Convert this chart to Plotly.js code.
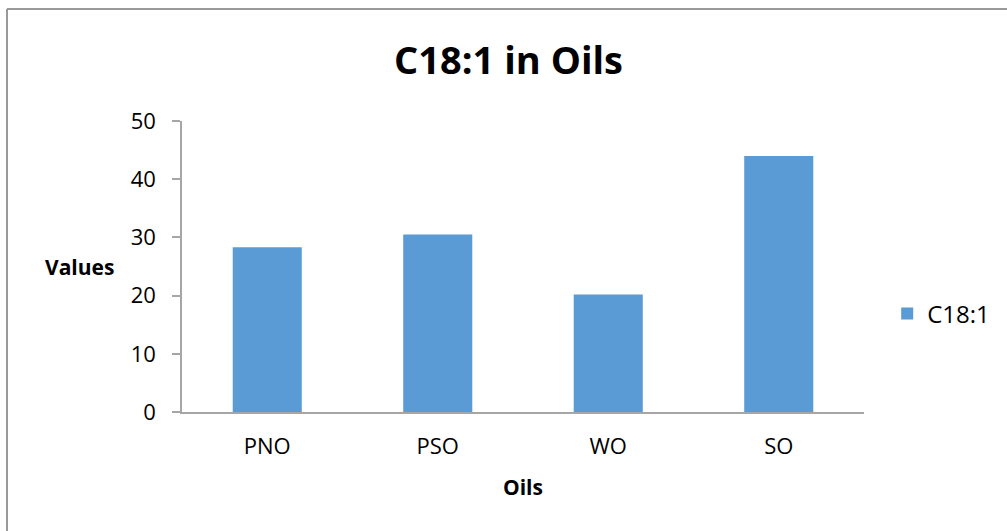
<!DOCTYPE html>
<html>
<head>
<meta charset="utf-8">
<script src="https://cdn.plot.ly/plotly-3.0.1.min.js"></script>
<style>
  body { margin: 0; background: #ffffff; }
  #chart { width: 1007px; height: 531px; }
</style>
</head>
<body>
<div id="chart"></div>
<script>
// Chart data
const oils = ["PNO", "PSO", "WO", "SO"];
const c181Values = [28.3, 30.5, 20.2, 44.0];
const yTicks = [0, 10, 20, 30, 40, 50];

const fontFamily = "'Open Sans', 'Noto Sans', sans-serif";
const axisGrey = "#a6a6a6";

const trace = {
  x: oils,
  y: c181Values,
  name: "C18:1",
  type: "bar",
  marker: {
    color: "#5b9bd5",
  },
  hoverinfo: "x+y",
};

const layout = {
  width: 1007,
  height: 531,
  margin: { l: 182, r: 143, t: 121, b: 119 },
  paper_bgcolor: "#ffffff",
  plot_bgcolor: "#ffffff",
  font: { family: fontFamily, size: 22, color: "#000000" },
  bargap: 0.595,
  showlegend: true,
  title: {
    text: "<b>C18:1 in Oils</b>",
    font: { family: fontFamily, size: 38, color: "#000000" },
    x: 0.505,
    xanchor: "center",
    y: 0.885,
    yref: "container",
    yanchor: "middle",
  },
  xaxis: {
    showline: true,
    linecolor: axisGrey,
    linewidth: 1.5,
    ticks: "",
    showgrid: false,
    zeroline: false,
    ticklabelstandoff: 14,
    tickfont: { size: 22 },
  },
  yaxis: {
    range: [0, 50],
    tickvals: yTicks,
    showline: true,
    linecolor: axisGrey,
    linewidth: 1.5,
    ticks: "outside",
    ticklen: 8,
    tickcolor: axisGrey,
    tickwidth: 1.5,
    showgrid: false,
    zeroline: false,
    ticklabelstandoff: 12,
    tickfont: { size: 22 },
  },
  legend: {
    x: 1.034,
    xanchor: "left",
    y: 0.337,
    yanchor: "middle",
    font: { size: 24 },
  },
  annotations: [
    {
      text: "<b>Values</b>",
      xref: "paper", yref: "paper",
      x: -0.1496, y: 0.498,
      xanchor: "center", yanchor: "middle",
      showarrow: false,
      font: { size: 21 },
    },
    {
      text: "<b>Oils</b>",
      xref: "paper", yref: "paper",
      x: 0.5, y: -0.2577,
      xanchor: "center", yanchor: "middle",
      showarrow: false,
      font: { size: 21 },
    },
  ],
  shapes: [
    // outer chart border (only top and left edges are visible)
    {
      type: "line", xref: "paper", yref: "paper",
      x0: -0.2566, x1: 1.3, y0: 1.3849, y1: 1.3849,
      line: { color: "#999999", width: 2 },
    },
    {
      type: "line", xref: "paper", yref: "paper",
      x0: -0.2566, x1: -0.2566, y0: 1.3849, y1: -0.5,
      line: { color: "#999999", width: 2 },
    },
  ],
};

Plotly.newPlot("chart", [trace], layout, { displayModeBar: false, responsive: false });
</script>
</body>
</html>
